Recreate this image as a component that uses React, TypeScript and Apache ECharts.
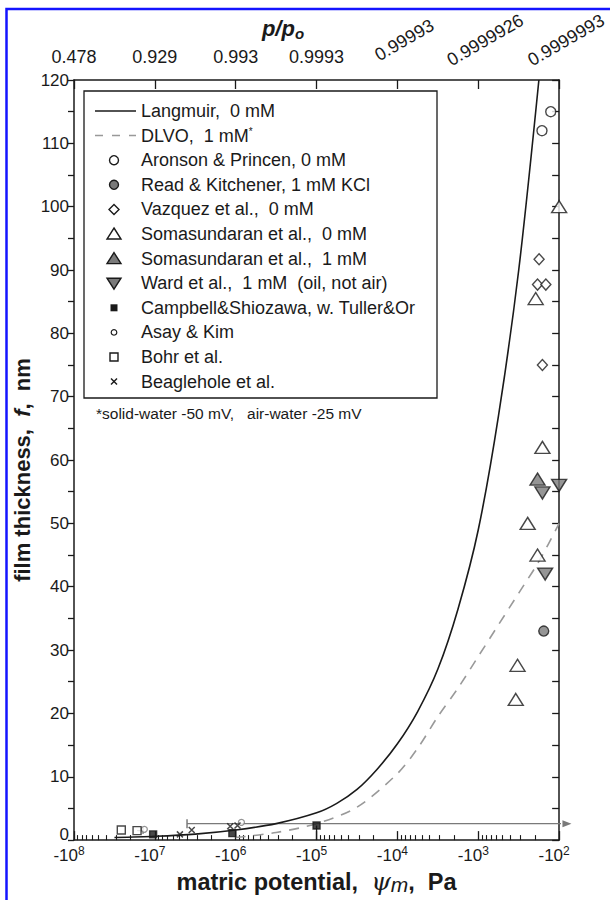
import React, { useEffect, useRef } from "react";
import * as echarts from "echarts";

// Matric potential (Pa, negative) on a reversed log axis of |psi_m|
const potentialDecades = [-1e8, -1e7, -1e6, -1e5, -1e4, -1e3, -1e2];
const potentialExponents = ["8", "7", "6", "5", "4", "3", "2"];
const relativePressureLabels = ["0.478", "0.929", "0.993", "0.9993", "0.99993", "0.9999926", "0.9999993"];
const minorTickPotentials = [2, 3, 4, 5, 6, 7, 8, 9].flatMap((m) => [1e2, 1e3, 1e4, 1e5, 1e6, 1e7].map((d) => -m * d));

// Model curves
const langmuirPsi = [-3.16e7, -1e7, -3.16e6, -1e6, -3.16e5, -1e5, -5.62e4, -3.16e4, -1.78e4, -1e4, -5.62e3, -3.16e3, -1.78e3, -1e3, -5.62e2, -3.16e2, -1.78e2];
const langmuirF = [0.4, 0.6, 0.95, 1.6, 2.6, 4.3, 5.8, 8.0, 11.2, 15.2, 20.3, 27, 36.5, 49, 67, 90, 120];
const dlvoPsi = [-1e6, -3.16e5, -1e5, -3.16e4, -1e4, -5.62e3, -3.16e3, -1.78e3, -1e3, -5.62e2, -3.16e2, -1.78e2, -1e2];
const dlvoF = [0.4, 1.2, 2.6, 5.2, 10.5, 14.5, 19.5, 24, 29, 34, 39, 44, 50];

// Measurements
const aronsonPsi = [-127, -163];
const aronsonF = [115, 112];
const readPsi = [-155];
const readF = [33];
const vazquezPsi = [-177, -185, -146, -161];
const vazquezF = [91.7, 87.7, 87.7, 75];
const soma0Psi = [-100, -195, -161, -245, -185, -327, -344];
const soma0F = [100, 85.5, 62, 50, 45, 27.6, 22.2];
const soma1Psi = [-185];
const soma1F = [57];
const wardPsi = [-100, -161, -149];
const wardF = [56, 54.8, 42];
const campbellPsi = [-1.05e7, -1.1e6, -1e5];
const campbellF = [0.9, 1.1, 2.3];
const asayPsi = [-1.35e7, -8.5e5];
const asayF = [1.7, 2.8];
const bohrPsi = [-2.6e7, -1.66e7];
const bohrF = [1.6, 1.5];
const beaglePsi = [-4.9e6, -3.5e6, -1.17e6, -9.5e5];
const beagleF = [0.9, 1.6, 2.2, 2.3];

// Error bars
const rangeBarPsi = [-4e6, -80];
const rangeBarF = [2.6, 2.6];
const bohrBarPsi = [-1.66e7, -1.4e7];
const bohrBarF = [1.5, 1.5];
const campbellBarPsi = [-1e5, -1e5];
const campbellBarF = [0, 2.3];

const legendLabels = [
  "Langmuir,  0 mM",
  "DLVO,  1 mM{sup|*}",
  "Aronson & Princen, 0 mM",
  "Read & Kitchener, 1 mM KCl",
  "Vazquez et al.,  0 mM",
  "Somasundaran et al.,  0 mM",
  "Somasundaran et al.,  1 mM",
  "Ward et al.,  1 mM  (oil, not air)",
  "Campbell&Shiozawa, w. Tuller&Or",
  "Asay & Kim",
  "Bohr et al.",
  "Beaglehole et al.",
];

const FONT = "'Liberation Sans', Arial, Helvetica, sans-serif";
const INK = "#1a1a1a";
const GRAY = "#7a7a7a";

const pts = (psi: number[], f: number[]) => psi.map((p, i) => [Math.abs(p), f[i]]);
const expOf = (v: number) => Math.round(Math.log10(Math.abs(v)));
const decadeIndex = (v: number) => potentialDecades.findIndex((d) => expOf(d) === expOf(v));

export default function App() {
  const ref = useRef<HTMLDivElement>(null);
  useEffect(() => {
    if (!ref.current) return;
    const chart = echarts.init(ref.current, undefined, { renderer: "svg" });

    const logAxisBase = {
      type: "log",
      logBase: 10,
      min: 100,
      max: 1e8,
      inverse: true,
      splitNumber: 6,
      gridIndex: 0,
      splitLine: { show: false },
    };

    const scatterBase = (name: string, data: number[][], symbol: string, size: any, fill: string, extra: any = {}) => ({
      name,
      type: "scatter",
      data,
      symbol,
      symbolSize: size,
      itemStyle: { color: fill, borderColor: INK, borderWidth: 1.4 },
      z: 5,
      ...extra,
    });

    const rowY = (i: number) => 111 + i * 24.6;
    const symX = 114;
    const legendIcons: any[] = [];
    const addIcon = (el: any) => legendIcons.push(el);
    addIcon({ type: "line", shape: { x1: 95, y1: rowY(0), x2: 136, y2: rowY(0) }, style: { stroke: INK, lineWidth: 1.5 } });
    addIcon({ type: "line", shape: { x1: 95, y1: rowY(1), x2: 136, y2: rowY(1) }, style: { stroke: "#999", lineWidth: 1.5, lineDash: [8, 9] } });
    addIcon({ type: "circle", shape: { cx: symX, cy: rowY(2), r: 4.5 }, style: { fill: "#fff", stroke: INK, lineWidth: 1.4 } });
    addIcon({ type: "circle", shape: { cx: symX, cy: rowY(3), r: 4.5 }, style: { fill: GRAY, stroke: INK, lineWidth: 1.4 } });
    addIcon({ type: "polygon", shape: { points: [[symX, rowY(4) - 5], [symX + 5, rowY(4)], [symX, rowY(4) + 5], [symX - 5, rowY(4)]] }, style: { fill: "#fff", stroke: INK, lineWidth: 1.4 } });
    addIcon({ type: "polygon", shape: { points: [[symX, rowY(5) - 6], [symX + 7, rowY(5) + 5], [symX - 7, rowY(5) + 5]] }, style: { fill: "#fff", stroke: INK, lineWidth: 1.4 } });
    addIcon({ type: "polygon", shape: { points: [[symX, rowY(6) - 6], [symX + 7, rowY(6) + 5], [symX - 7, rowY(6) + 5]] }, style: { fill: GRAY, stroke: INK, lineWidth: 1.4 } });
    addIcon({ type: "polygon", shape: { points: [[symX, rowY(7) + 6], [symX + 7, rowY(7) - 5], [symX - 7, rowY(7) - 5]] }, style: { fill: GRAY, stroke: INK, lineWidth: 1.4 } });
    addIcon({ type: "rect", shape: { x: symX - 3.5, y: rowY(8) - 3.5, width: 7, height: 7 }, style: { fill: INK } });
    addIcon({ type: "circle", shape: { cx: symX, cy: rowY(9), r: 2.8 }, style: { fill: "#fff", stroke: INK, lineWidth: 1.2 } });
    addIcon({ type: "rect", shape: { x: symX - 4, y: rowY(10) - 4, width: 8, height: 8 }, style: { fill: "#fff", stroke: INK, lineWidth: 1.4 } });
    addIcon({ type: "line", shape: { x1: symX - 3, y1: rowY(11) - 3, x2: symX + 3, y2: rowY(11) + 3 }, style: { stroke: INK, lineWidth: 1.4 } });
    addIcon({ type: "line", shape: { x1: symX - 3, y1: rowY(11) + 3, x2: symX + 3, y2: rowY(11) - 3 }, style: { stroke: INK, lineWidth: 1.4 } });

    const legendTexts = legendLabels.map((t, i) => ({
      type: "text",
      x: 141,
      y: rowY(i),
      style: {
        text: t,
        font: `18px ${FONT}`,
        fill: INK,
        verticalAlign: "middle",
        rich: { sup: { fontSize: 10, verticalAlign: "top", lineHeight: 10, fill: INK, fontFamily: FONT } },
      },
    }));

    chart.setOption({
      animation: false,
      backgroundColor: "#fff",
      textStyle: { fontFamily: FONT },
      grid: { left: 74, right: 40, top: 80, bottom: 52, containLabel: false },
      xAxis: [
        {
          ...logAxisBase,
          position: "bottom",
          axisLine: { show: true, onZero: false, lineStyle: { color: INK, width: 1.5 } },
          axisTick: { show: true, inside: true, length: 9, lineStyle: { color: INK, width: 1.3 } },
          axisLabel: {
            margin: 5,
            formatter: (v: number) => {
              const i = decadeIndex(v);
              return i < 0 ? "" : `{b|-10}{s|${potentialExponents[i]}}{g|}`;
            },
            rich: {
              b: { fontSize: 17, color: INK, fontFamily: FONT, verticalAlign: "bottom", lineHeight: 19 },
              s: { fontSize: 12, color: INK, fontFamily: FONT, verticalAlign: "top", lineHeight: 12 },
              g: { width: 10 },
            },
          },
          name: "{b|matric potential,  }{i|ψ}{m|m}{b|,  Pa}",
          nameLocation: "middle",
          nameGap: 17,
          nameTextStyle: {
            verticalAlign: "top",
            rich: {
              b: { fontSize: 23.5, fontWeight: "bold", color: INK, fontFamily: FONT },
              i: { fontSize: 25, fontStyle: "italic", color: INK, fontFamily: "'DejaVu Serif', serif" },
              m: { fontSize: 21, fontStyle: "italic", color: INK, fontFamily: FONT, padding: [6, 0, 0, 0] },
            },
          },
        },
        {
          ...logAxisBase,
          position: "bottom",
          axisLine: { show: false },
          axisLabel: { show: false },
          axisTick: { show: true, inside: true, length: 5, customValues: minorTickPotentials.map((p) => Math.abs(p)), lineStyle: { color: INK, width: 1.1 } },
        },
        {
          ...logAxisBase,
          position: "top",
          axisLine: { show: true, onZero: false, lineStyle: { color: INK, width: 1.5 } },
          axisTick: { show: true, inside: true, length: 9, lineStyle: { color: INK, width: 1.3 } },
          axisLabel: {
            margin: 14,
            fontSize: 18,
            color: INK,
            formatter: (v: number) => {
              const i = decadeIndex(v);
              return i >= 0 && i < 4 ? relativePressureLabels[i] : "";
            },
          },
        },
        {
          ...logAxisBase,
          position: "top",
          axisLine: { show: false },
          axisTick: { show: false },
          axisLabel: {
            margin: 36,
            rotate: 30,
            align: "center",
            verticalAlign: "middle",
            formatter: (v: number) => {
              const i = decadeIndex(v);
              return i >= 4 ? `{g|}{t|${relativePressureLabels[i]}}` : "";
            },
            rich: { g: { width: 16 }, t: { fontSize: 18, color: INK, fontFamily: FONT } },
          },
        },
      ],
      yAxis: [
        {
          type: "value",
          min: 0,
          max: 120,
          interval: 10,
          position: "left",
          axisLine: { show: true, lineStyle: { color: INK, width: 1.5 } },
          axisTick: { show: true, length: 6, lineStyle: { color: INK, width: 1.3 } },
          minorTick: { show: true, splitNumber: 2, length: 6, lineStyle: { color: INK, width: 1.3 } },
          axisLabel: {
            fontSize: 17,
            color: INK,
            margin: 5,
            formatter: (v: number) => (v === 0 ? "{z|0}" : String(v)),
            rich: { z: { fontSize: 17, color: INK, fontFamily: FONT, padding: [0, 0, 12, 0] } },
          },
          splitLine: { show: false },
        },
        {
          type: "value",
          min: 0,
          max: 120,
          interval: 5,
          position: "right",
          axisLine: { show: true, lineStyle: { color: INK, width: 1.5 } },
          axisTick: { show: true, inside: true, length: 7, lineStyle: { color: INK, width: 1.3 } },
          axisLabel: { show: false },
          splitLine: { show: false },
        },
      ],
      series: [
        { name: "Langmuir", type: "line", data: pts(langmuirPsi, langmuirF), symbol: "none", smooth: 0.3, lineStyle: { color: INK, width: 1.6 }, z: 3 },
        { name: "DLVO", type: "line", data: pts(dlvoPsi, dlvoF), symbol: "none", smooth: 0.3, lineStyle: { color: "#999", width: 1.6, type: [10, 8] }, z: 3 },
        {
          name: "range bar",
          type: "line",
          clip: false,
          data: [
            { value: [Math.abs(rangeBarPsi[0]), rangeBarF[0]], symbol: "rect", symbolSize: [1.5, 9] },
            { value: [Math.abs(rangeBarPsi[1]), rangeBarF[1]], symbol: "triangle", symbolSize: [7, 9], symbolRotate: -90 },
          ],
          showSymbol: true,
          itemStyle: { color: GRAY },
          lineStyle: { color: GRAY, width: 1.3 },
          z: 2,
        },
        {
          name: "bohr bar",
          type: "line",
          data: [
            { value: [Math.abs(bohrBarPsi[0]), bohrBarF[0]], symbol: "none" },
            { value: [Math.abs(bohrBarPsi[1]), bohrBarF[1]], symbol: "rect", symbolSize: [1.3, 7] },
          ],
          itemStyle: { color: GRAY },
          lineStyle: { color: GRAY, width: 1.2 },
          z: 2,
        },
        { name: "campbell bar", type: "line", data: pts(campbellBarPsi, campbellBarF), symbol: "none", lineStyle: { color: INK, width: 1.3 }, z: 2 },
        scatterBase("Aronson & Princen", pts(aronsonPsi, aronsonF), "circle", 10, "#fff"),
        scatterBase("Read & Kitchener", pts(readPsi, readF), "circle", 10, GRAY),
        scatterBase("Vazquez et al.", pts(vazquezPsi, vazquezF), "diamond", [10, 11], "#fff"),
        scatterBase("Somasundaran 0 mM", pts(soma0Psi, soma0F), "triangle", [15, 12], "#fff"),
        scatterBase("Somasundaran 1 mM", pts(soma1Psi, soma1F), "triangle", [15, 12], GRAY),
        scatterBase("Ward et al.", pts(wardPsi, wardF), "triangle", [15, 12], GRAY, { symbolRotate: 180 }),
        scatterBase("Campbell&Shiozawa", pts(campbellPsi, campbellF), "rect", 7, INK),
        scatterBase("Asay & Kim", pts(asayPsi, asayF), "circle", 6, "#fff", { itemStyle: { color: "#fff", borderColor: GRAY, borderWidth: 1.3 } }),
        scatterBase("Bohr et al.", pts(bohrPsi, bohrF), "rect", 8, "#fff"),
        scatterBase("Beaglehole et al.", pts(beaglePsi, beagleF), "path://M0 0L10 10M10 0L0 10", 6, "none", { itemStyle: { color: "none", borderColor: INK, borderWidth: 1.5 } }),
      ],
      graphic: [
        { type: "rect", shape: { x: 6.5, y: 9, width: 700, height: 1000 }, style: { fill: "none", stroke: "#1414ff", lineWidth: 2.5 }, silent: true, z: 100 },
        {
          type: "text",
          x: 283,
          y: 28,
          style: {
            text: "{p|p/p}{o|o}",
            align: "center",
            verticalAlign: "middle",
            rich: {
              p: { fontSize: 22, fontWeight: "bold", fontStyle: "italic", fill: INK, fontFamily: FONT },
              o: { fontSize: 15, fontWeight: "bold", fontStyle: "italic", fill: INK, fontFamily: FONT, padding: [10, 0, 0, 0] },
            },
          },
        },
        {
          type: "text",
          x: 22,
          y: 470,
          rotation: Math.PI / 2,
          style: {
            text: "{b|film thickness,  }{i|f}{b|,  nm}",
            align: "center",
            verticalAlign: "middle",
            rich: {
              b: { fontSize: 22, fontWeight: "bold", fill: INK, fontFamily: FONT },
              i: { fontSize: 22, fontWeight: "bold", fontStyle: "italic", fill: INK, fontFamily: FONT },
            },
          },
        },
        { type: "rect", shape: { x: 84, y: 91, width: 353, height: 307 }, style: { fill: "#fff", stroke: INK, lineWidth: 1.3 }, z: 10 },
        ...legendIcons.map((e) => ({ ...e, z: 11 })),
        ...legendTexts.map((e) => ({ ...e, z: 11 })),
        {
          type: "text",
          x: 96,
          y: 413,
          z: 11,
          style: { text: "*solid-water -50 mV,   air-water -25 mV", font: `15.5px ${FONT}`, fill: INK, verticalAlign: "middle" },
        },
      ],
    });
    return () => chart.dispose();
  }, []);
  return <div ref={ref} style={{ position: "absolute", left: 0, top: 0, width: 610, height: 900 }} />;
}
